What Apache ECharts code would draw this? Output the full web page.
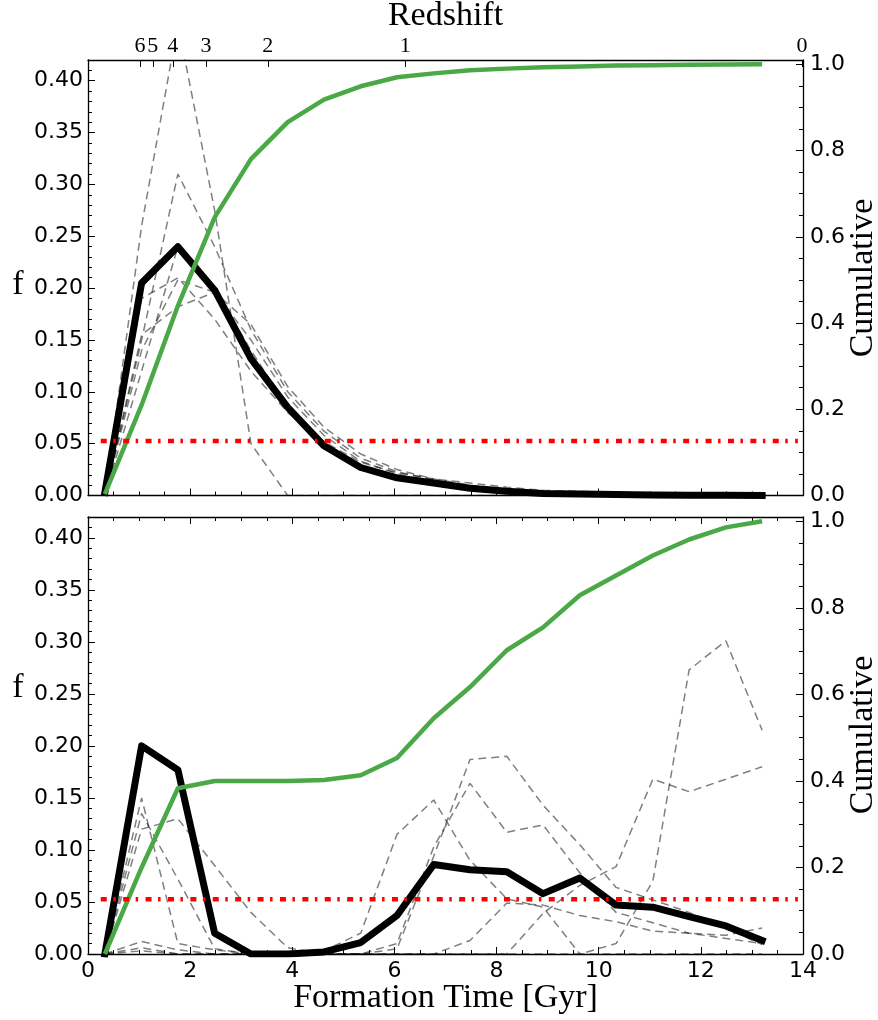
<!DOCTYPE html>
<html>
<head>
<meta charset="utf-8">
<script src="https://cdn.jsdelivr.net/npm/echarts@6/dist/echarts.min.js"></script>
<style>
  html, body { margin: 0; padding: 0; background: #fff; }
  #chart { width: 878px; height: 1020px; }
</style>
</head>
<body>
<div id="chart"></div>
<script>
// ---------- data ----------
const timeBins = [0.33, 1.05, 1.76, 2.48, 3.19, 3.91, 4.62, 5.34, 6.05, 6.77, 7.48, 8.20, 8.91, 9.63, 10.34, 11.06, 11.77, 12.49, 13.20];

const topMeanF = [0.003, 0.205, 0.240, 0.198, 0.132, 0.085, 0.048, 0.027, 0.017, 0.012, 0.007, 0.004, 0.002, 0.0015, 0.001, 0.0005, 0.0003, 0.0002, 0.0001];
const topCumulative = [0.003, 0.210, 0.440, 0.645, 0.780, 0.866, 0.918, 0.949, 0.970, 0.979, 0.986, 0.990, 0.993, 0.995, 0.997, 0.998, 0.999, 0.9995, 1.0];
const topGalaxy1 = [0, 0.260, 0.455, 0.275, 0.050, 0, 0, 0, 0, 0, 0, 0, 0, 0, 0, 0, 0, 0, 0];
const topGalaxy2 = [0, 0.150, 0.310, 0.240, 0.160, 0.100, 0.062, 0.036, 0.023, 0.015, 0.009, 0.005, 0.003, 0.002, 0.001, 0, 0, 0, 0];
const topGalaxy3 = [0, 0.140, 0.208, 0.196, 0.150, 0.095, 0.058, 0.033, 0.021, 0.013, 0.008, 0.005, 0.003, 0.002, 0.001, 0.001, 0, 0, 0];
const topGalaxy4 = [0, 0.155, 0.182, 0.196, 0.165, 0.105, 0.066, 0.040, 0.025, 0.016, 0.010, 0.006, 0.004, 0.002, 0.001, 0.001, 0, 0, 0];
const topGalaxy5 = [0, 0.120, 0.240, 0.200, 0.140, 0.085, 0.045, 0.028, 0.018, 0.012, 0.007, 0.004, 0.002, 0.001, 0, 0, 0, 0, 0];
const topGalaxy6 = [0, 0.190, 0.210, 0.170, 0.120, 0.080, 0.052, 0.032, 0.022, 0.016, 0.012, 0.008, 0.005, 0.004, 0.003, 0.002, 0.001, 0, 0];

const bottomMeanF = [0, 0.200, 0.177, 0.020, 0, 0, 0.002, 0.011, 0.037, 0.086, 0.081, 0.079, 0.058, 0.073, 0.047, 0.045, 0.036, 0.027, 0.013];
const bottomCumulative = [0, 0.200, 0.383, 0.400, 0.400, 0.400, 0.402, 0.413, 0.453, 0.545, 0.617, 0.702, 0.755, 0.829, 0.875, 0.921, 0.958, 0.986, 1.0];
const bottomGalaxy1 = [0, 0.120, 0.130, 0.085, 0.040, 0.006, 0, 0, 0, 0, 0, 0, 0, 0, 0.010, 0.070, 0.273, 0.301, 0.215];
const bottomGalaxy2 = [0, 0.135, 0.072, 0.005, 0, 0, 0, 0, 0, 0, 0, 0, 0.039, 0.066, 0.084, 0.168, 0.156, 0.168, 0.180];
const bottomGalaxy3 = [0, 0.012, 0.004, 0, 0, 0, 0, 0, 0.005, 0.094, 0.187, 0.190, 0.143, 0.105, 0.064, 0.052, 0.040, 0.025, 0.009];
const bottomGalaxy4 = [0, 0.150, 0.010, 0.004, 0, 0, 0.003, 0.020, 0.115, 0.148, 0.090, 0.053, 0.045, 0, 0, 0, 0, 0, 0];
const bottomGalaxy5 = [0, 0.006, 0, 0, 0, 0, 0, 0, 0.010, 0.103, 0.164, 0.117, 0.124, 0.078, 0.040, 0.030, 0.020, 0.015, 0.010];
const bottomGalaxy6 = [0, 0.003, 0, 0, 0, 0, 0, 0, 0, 0, 0.013, 0.049, 0.047, 0.037, 0.031, 0.022, 0.020, 0.018, 0.025];

const uniformLevel = 0.0526;
const uniformSpan = [0.25, 13.9];

const redshiftLabels = ['6', '5', '4', '3', '2', '1', '0'];
const redshiftTimes = [1.02, 1.27, 1.66, 2.31, 3.52, 6.21, 13.98];

// ---------- helpers ----------
const SANS = 'DejaVu Sans';
const SERIF = 'Liberation Serif';
const pairs = (ys) => timeBins.map((t, i) => [t, ys[i]]);

function xAxisCfg(gridIndex, position, showLabels) {
  return {
    type: 'value', gridIndex, position, min: 0, max: 14, interval: 2,
    axisLine: { show: true, onZero: false, lineStyle: { color: '#000', width: 1.3 } },
    axisTick: { show: true, inside: true, length: 7, lineStyle: { color: '#000', width: 1 } },
    minorTick: { show: true, splitNumber: 4, length: 4, lineStyle: { color: '#000', width: 1 } },
    axisLabel: { show: showLabels, margin: 6, color: '#000', fontFamily: SANS, fontSize: 22 },
    splitLine: { show: false }, minorSplitLine: { show: false }
  };
}
function fAxisCfg(gridIndex) {
  return {
    type: 'value', gridIndex, position: 'left', min: 0, max: 0.42, interval: 0.05,
    axisLine: { show: true, onZero: false, lineStyle: { color: '#000', width: 1.3 } },
    axisTick: { show: true, inside: true, length: 7, lineStyle: { color: '#000', width: 1 } },
    minorTick: { show: true, splitNumber: 5, length: 4, lineStyle: { color: '#000', width: 1 } },
    axisLabel: {
      margin: 5, color: '#000', fontFamily: SANS, fontSize: 22,
      formatter: (v) => Math.abs(v / 0.05 - Math.round(v / 0.05)) < 1e-6 ? v.toFixed(2) : ''
    },
    splitLine: { show: false }, minorSplitLine: { show: false }
  };
}
function cumAxisCfg(gridIndex) {
  return {
    type: 'value', gridIndex, position: 'right', min: 0, max: 1.01, interval: 0.2,
    axisLine: { show: true, onZero: false, lineStyle: { color: '#000', width: 1.3 } },
    axisTick: { show: true, inside: true, length: 7, lineStyle: { color: '#000', width: 1 } },
    minorTick: { show: true, splitNumber: 4, length: 4, lineStyle: { color: '#000', width: 1 } },
    axisLabel: {
      margin: 7, color: '#000', fontFamily: SANS, fontSize: 22,
      formatter: (v) => Math.abs(v / 0.2 - Math.round(v / 0.2)) < 1e-6 ? v.toFixed(1) : ''
    },
    splitLine: { show: false }, minorSplitLine: { show: false }
  };
}
function galaxySeries(ys, xi, yi) {
  return {
    type: 'line', xAxisIndex: xi, yAxisIndex: yi, data: pairs(ys),
    symbol: 'none', showSymbol: false, clip: true, z: 2, silent: true,
    lineStyle: { color: 'rgba(0,0,0,0.5)', width: 1.5, type: [8, 5], cap: 'butt' }
  };
}
function meanSeries(ys, xi, yi) {
  return {
    type: 'line', xAxisIndex: xi, yAxisIndex: yi, data: pairs(ys),
    symbol: 'none', showSymbol: false, clip: true, z: 3, silent: true,
    lineStyle: { color: '#000', width: 7, join: 'round', cap: 'square' }
  };
}
function cumSeries(ys, xi, yi) {
  return {
    type: 'line', xAxisIndex: xi, yAxisIndex: yi, data: pairs(ys),
    symbol: 'none', showSymbol: false, clip: true, z: 4, silent: true,
    lineStyle: { color: '#4aa847', width: 4.5, opacity: 1, join: 'round', cap: 'butt' }
  };
}
function uniformSeries(xi, yi) {
  return {
    type: 'line', xAxisIndex: xi, yAxisIndex: yi,
    data: uniformSpan.map((t) => [t, uniformLevel]),
    symbol: 'none', showSymbol: false, clip: true, z: 5, silent: true,
    lineStyle: { color: '#ff0000', width: 4.5, type: [6, 6.5, 2.5, 7.4], cap: 'butt' }
  };
}

const topGalaxies = [topGalaxy1, topGalaxy2, topGalaxy3, topGalaxy4, topGalaxy5, topGalaxy6];
const bottomGalaxies = [bottomGalaxy1, bottomGalaxy2, bottomGalaxy3, bottomGalaxy4, bottomGalaxy5, bottomGalaxy6];

const redshiftAxis = {
  type: 'value', gridIndex: 0, position: 'top', min: 0, max: 14,
  axisLine: { show: true, onZero: false, lineStyle: { color: '#000', width: 1.3 } },
  axisTick: { show: true, inside: true, length: 7, customValues: redshiftTimes, lineStyle: { color: '#000', width: 1 } },
  minorTick: { show: false },
  axisLabel: {
    show: true, margin: 3, color: '#000', fontFamily: SERIF, fontSize: 22,
    customValues: redshiftTimes,
    formatter: (v) => {
      const i = redshiftTimes.findIndex((t) => Math.abs(t - v) < 1e-6);
      return i >= 0 ? redshiftLabels[i] : '';
    }
  },
  splitLine: { show: false }
};

const serifText = (text, x, y, rotation) => ({
  type: 'text', x, y, rotation: rotation || 0, silent: true,
  style: { text, fill: '#000', font: '34px "Liberation Serif"', textAlign: 'center', textVerticalAlign: 'middle', verticalAlign: 'middle', align: 'center' }
});

const option = {
  animation: false,
  backgroundColor: '#fff',
  textStyle: { fontFamily: SANS },
  grid: [
    { left: 88, right: 75, top: 60, height: 435.5, outerBoundsMode: 'none', containLabel: false },
    { left: 88, right: 75, top: 517, height: 437, outerBoundsMode: 'none', containLabel: false }
  ],
  xAxis: [
    xAxisCfg(0, 'bottom', false),
    redshiftAxis,
    xAxisCfg(1, 'bottom', true),
    xAxisCfg(1, 'top', false)
  ],
  yAxis: [fAxisCfg(0), cumAxisCfg(0), fAxisCfg(1), cumAxisCfg(1)],
  series: [
    ...topGalaxies.map((g) => galaxySeries(g, 0, 0)),
    meanSeries(topMeanF, 0, 0),
    cumSeries(topCumulative, 0, 1),
    uniformSeries(0, 0),
    ...bottomGalaxies.map((g) => galaxySeries(g, 2, 2)),
    meanSeries(bottomMeanF, 2, 2),
    cumSeries(bottomCumulative, 2, 3),
    uniformSeries(2, 2)
  ],
  graphic: [
    serifText('Redshift', 445.5, 16.5),
    serifText('Formation Time [Gyr]', 445.5, 998.5),
    serifText('f', 18, 285.5),
    serifText('f', 18, 688.5),
    serifText('Cumulative', 863.5, 278, Math.PI / 2),
    serifText('Cumulative', 863.5, 735, Math.PI / 2)
  ]
};

const chart = echarts.init(document.getElementById('chart'), null, { renderer: 'canvas' });
chart.setOption(option);
</script>
</body>
</html>
